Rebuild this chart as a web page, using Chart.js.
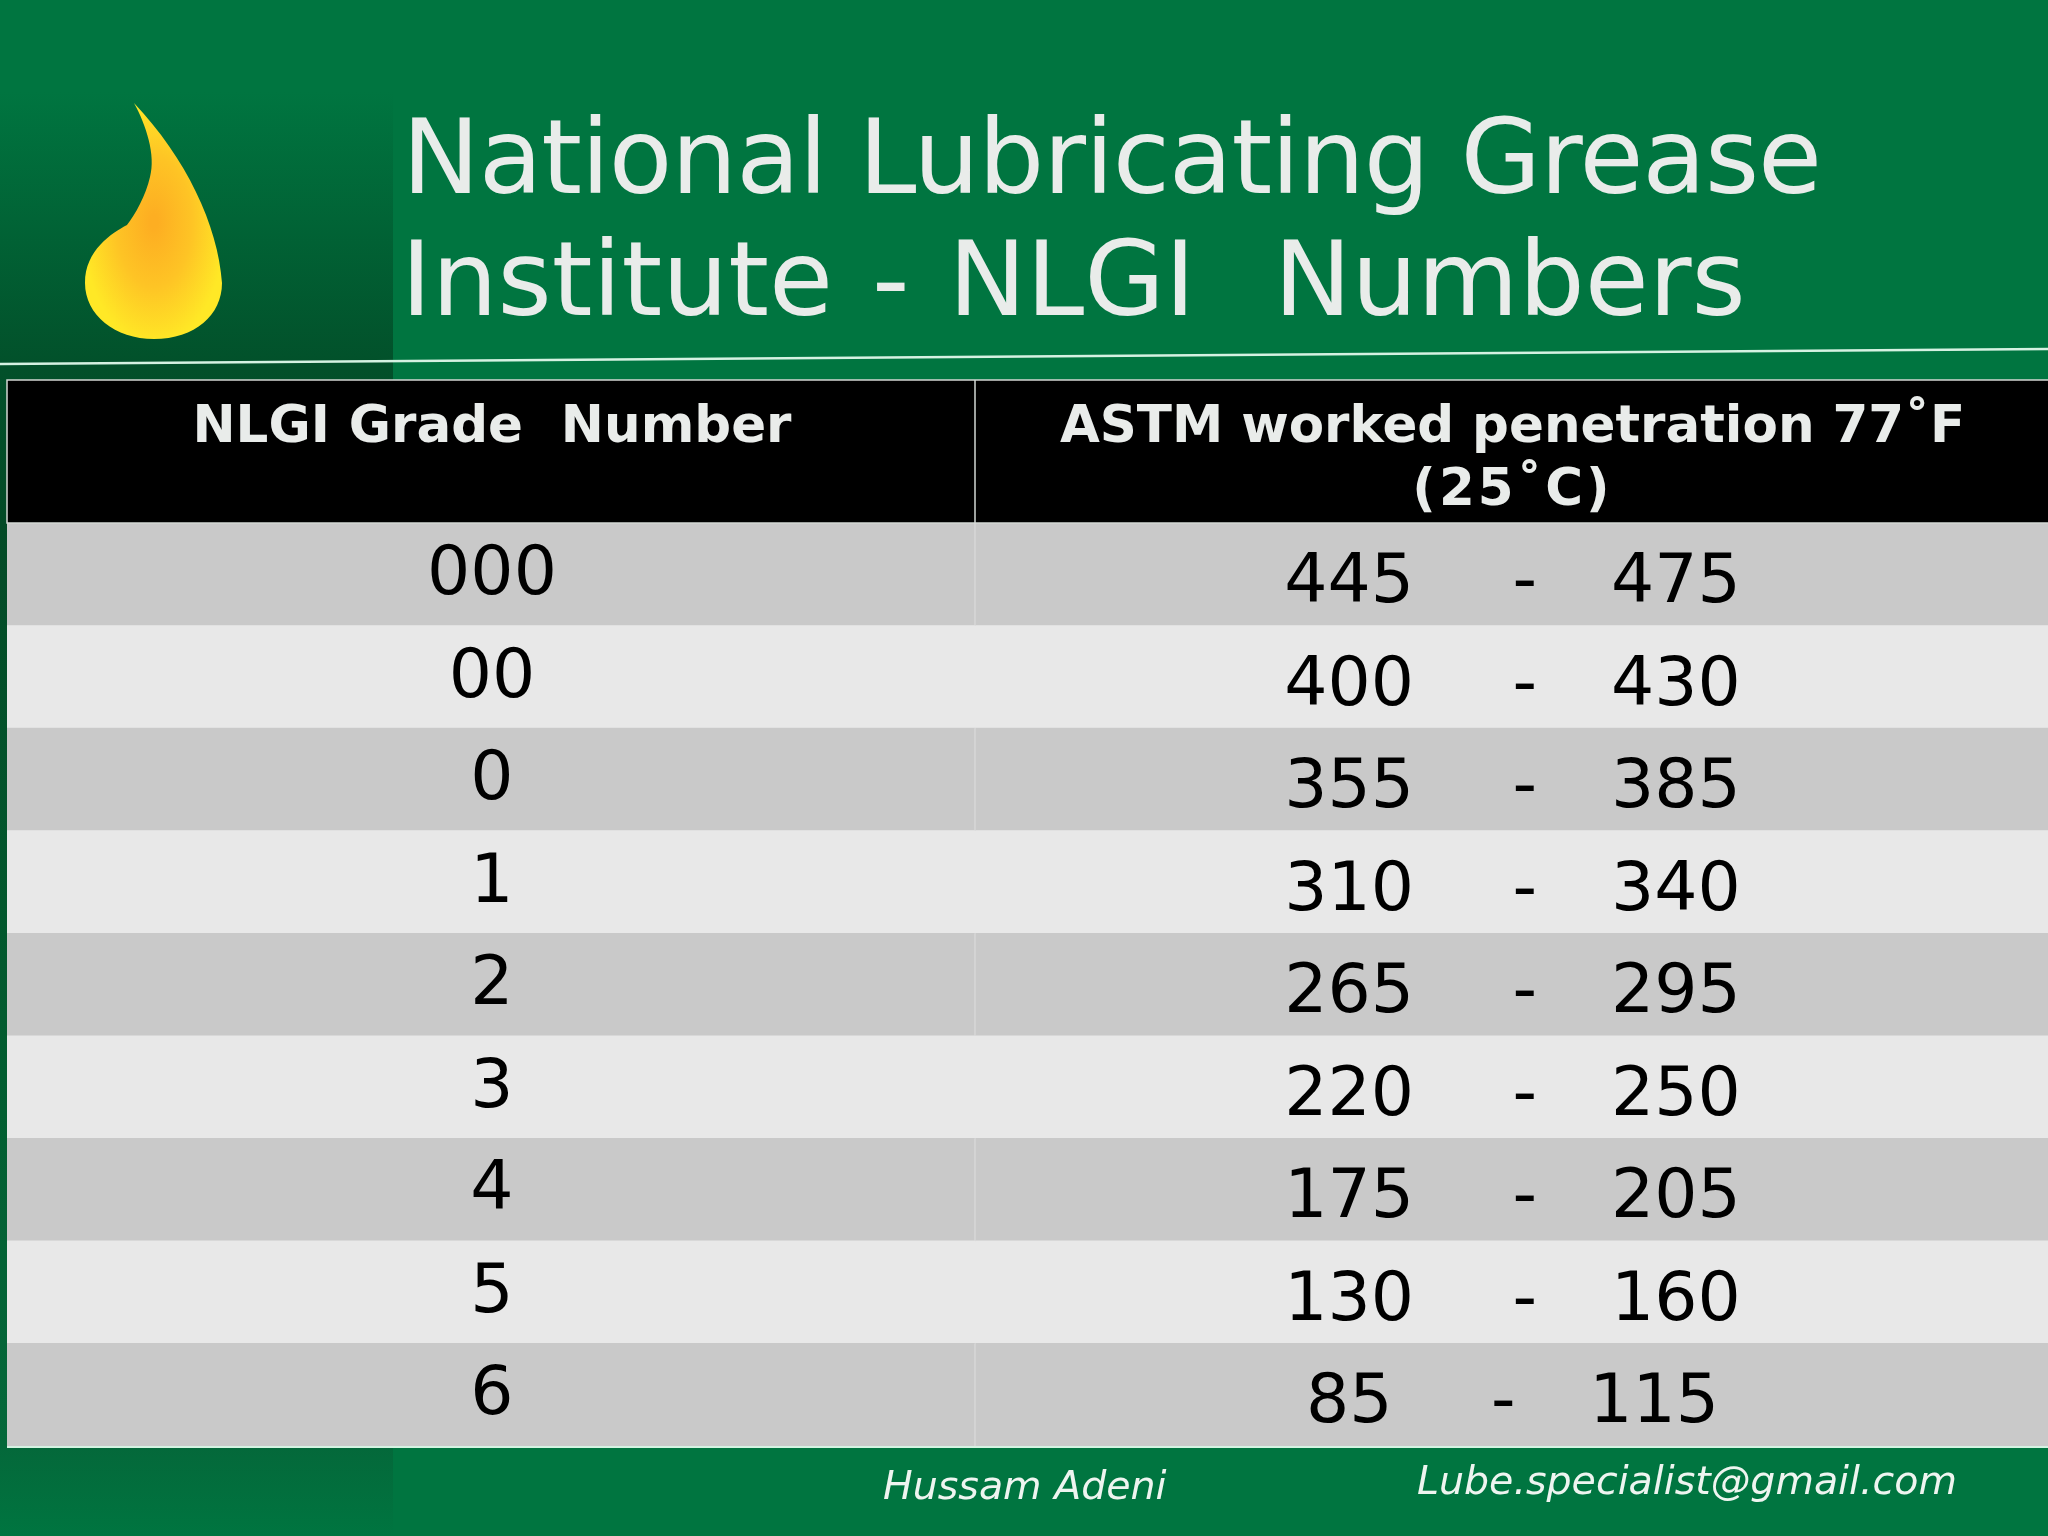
<!DOCTYPE html>
<html>
<head>
<meta charset="utf-8">
<title>NLGI Numbers</title>
<script src="https://cdn.jsdelivr.net/npm/chart.js@4"></script>
<style>
  html, body { margin: 0; padding: 0; background: #007540; }
  canvas { display: block; }
</style>
</head>
<body>
<canvas id="tabla" width="2048" height="1536"></canvas>
<script>
// Datos de la tabla
const titleLines = ["National Lubricating Grease", "Institute - NLGI  Numbers"];
const headerCol1 = ["NLGI Grade  Number"];
const headerCol2 = ["ASTM worked penetration 77˚F", "(25˚C)"];
const grades = ["000", "00", "0", "1", "2", "3", "4", "5", "6"];
const penetrationLow = [445, 400, 355, 310, 265, 220, 175, 130, 85];
const penetrationHigh = [475, 430, 385, 340, 295, 250, 205, 160, 115];
const footerName = "Hussam Adeni";
const footerMail = "Lube.specialist@gmail.com";

// Ancho de cada columna, en unidades del eje x
const col1Width = grades.map(() => 968);
const col2Width = grades.map(() => 1073);

const FONT = '"DejaVu Sans"';
const TEXT_LIGHT = "#e9ecea";

// Fondo verde, panel oscuro de la izquierda, gota y línea
const slideBackground = {
  id: "slideBackground",
  beforeDraw(chart) {
    const { ctx, width, height } = chart;
    ctx.save();
    ctx.fillStyle = "#007540";
    ctx.fillRect(0, 0, width, height);

    const panel = ctx.createLinearGradient(0, 0, 0, height);
    panel.addColorStop(0, "#007540");
    panel.addColorStop(0.06, "#007540");
    panel.addColorStop(0.24, "#02502a");
    panel.addColorStop(0.34, "#034a26");
    panel.addColorStop(0.7, "#025d30");
    panel.addColorStop(0.94, "#04683a");
    panel.addColorStop(1, "#007540");
    ctx.fillStyle = panel;
    ctx.fillRect(0, 0, 393, height);

    // la gota
    ctx.save();
    ctx.beginPath();
    ctx.moveTo(134, 103);
    ctx.bezierCurveTo(146, 125, 156, 155, 150, 177);
    ctx.bezierCurveTo(146, 195, 135, 215, 127, 225);
    ctx.bezierCurveTo(112, 233, 85, 250, 85, 283);
    ctx.bezierCurveTo(85, 315, 115, 339, 154, 339);
    ctx.bezierCurveTo(195, 339, 222, 315, 222, 283);
    ctx.bezierCurveTo(218, 225, 186, 158, 134, 103);
    ctx.closePath();
    ctx.translate(154, 222);
    ctx.scale(1, 1.7);
    const flame = ctx.createRadialGradient(0, 0, 4, 0, 0, 72);
    flame.addColorStop(0, "#fdae22");
    flame.addColorStop(0.5, "#fec425");
    flame.addColorStop(1, "#ffe826");
    ctx.fillStyle = flame;
    ctx.fill();
    ctx.restore();

    ctx.strokeStyle = "#d5f2e2";
    ctx.lineWidth = 2.5;
    ctx.beginPath();
    ctx.moveTo(0, 364);
    ctx.lineTo(2048, 349);
    ctx.stroke();
    ctx.restore();
  }
};

// Cabecera, separador y textos de la tabla
const tableText = {
  id: "tableText",
  afterDatasetsDraw(chart) {
    const { ctx, scales } = chart;
    const x = scales.x;
    const y = scales.y;
    const left = x.getPixelForValue(0);
    const split = x.getPixelForValue(col1Width[0]);
    const right = x.getPixelForValue(col1Width[0] + col2Width[0]);
    const rowH = y.getPixelForValue(1) - y.getPixelForValue(0);
    const top = y.getPixelForValue(0) - rowH / 2;
    const center1 = (left + split) / 2 + 1;
    const center2 = (split + right) / 2 + 1;

    ctx.save();
    // cabecera negra
    ctx.fillStyle = "#000000";
    ctx.fillRect(left, 380, right - left, top - 380);
    ctx.strokeStyle = "#d3d8d4";
    ctx.lineWidth = 1.5;
    ctx.strokeRect(left, 380, right - left + 2, top - 380);
    ctx.beginPath();
    ctx.moveTo(split, 380);
    ctx.lineTo(split, top);
    ctx.stroke();

    // separador en las filas oscuras
    ctx.strokeStyle = "#dedede";
    ctx.lineWidth = 1;
    grades.forEach((g, i) => {
      if (i % 2 === 0) {
        ctx.beginPath();
        ctx.moveTo(split, y.getPixelForValue(i) - rowH / 2);
        ctx.lineTo(split, y.getPixelForValue(i) + rowH / 2);
        ctx.stroke();
      }
    });

    // borde inferior
    ctx.strokeStyle = "#d5f2e2";
    ctx.lineWidth = 2;
    ctx.beginPath();
    ctx.moveTo(left, top + rowH * grades.length + 1);
    ctx.lineTo(right, top + rowH * grades.length + 1);
    ctx.stroke();

    ctx.textAlign = "center";
    ctx.textBaseline = "alphabetic";

    ctx.fillStyle = TEXT_LIGHT;
    ctx.font = "bold 51.5px " + FONT;
    ctx.wordSpacing = "1px";
    headerCol1.forEach((t, i) => ctx.fillText(t, center1, 442 + i * 63));
    ctx.wordSpacing = "0px";
    headerCol2.forEach((t, i) => {
      ctx.letterSpacing = i === 1 ? "3px" : "0px";
      ctx.fillText(t, center2, 442 + i * 63);
    });
    ctx.letterSpacing = "0px";

    ctx.fillStyle = "#000000";
    ctx.font = "68px " + FONT;
    grades.forEach((g, i) => {
      const rowTop = y.getPixelForValue(i) - rowH / 2;
      ctx.wordSpacing = "0px";
      ctx.fillText(g, center1, rowTop + 71);
      ctx.wordSpacing = "3px";
      ctx.fillText(`${penetrationLow[i]}    -   ${penetrationHigh[i]}`, center2, rowTop + 79);
    });
    ctx.wordSpacing = "0px";

    // título y pie
    ctx.textAlign = "left";
    ctx.fillStyle = TEXT_LIGHT;
    ctx.font = "104px " + FONT;
    ctx.letterSpacing = "-1.1px";
    ctx.fillText(titleLines[0], 402, 193);
    ctx.letterSpacing = "0px";
    ctx.wordSpacing = "6px";
    ctx.fillText(titleLines[1], 401, 315);
    ctx.wordSpacing = "0px";

    ctx.fillStyle = "#eef5f0";
    ctx.font = "italic 39.5px " + FONT;
    ctx.fillText(footerName, 883, 1499);
    ctx.fillText(footerMail, 1417, 1494);
    ctx.restore();
  }
};

new Chart(document.getElementById("tabla"), {
  type: "bar",
  data: {
    labels: grades,
    datasets: [
      {
        label: "NLGI Grade Number",
        data: col1Width,
        backgroundColor: grades.map((g, i) => (i % 2 === 0 ? "#c9c9c9" : "#e8e8e8")),
        borderWidth: 0
      },
      {
        label: "ASTM worked penetration",
        data: col2Width,
        backgroundColor: grades.map((g, i) => (i % 2 === 0 ? "#c9c9c9" : "#e8e8e8")),
        borderWidth: 0
      }
    ]
  },
  options: {
    indexAxis: "y",
    responsive: false,
    animation: false,
    devicePixelRatio: 1,
    layout: { padding: { left: 7, top: 523, right: 0, bottom: 90 } },
    datasets: { bar: { barPercentage: 1, categoryPercentage: 1 } },
    plugins: { legend: { display: false }, tooltip: { enabled: false } },
    scales: {
      x: { display: false, stacked: true, min: 0, max: 2041 },
      y: { display: false, stacked: true }
    }
  },
  plugins: [slideBackground, tableText]
});
</script>
</body>
</html>
